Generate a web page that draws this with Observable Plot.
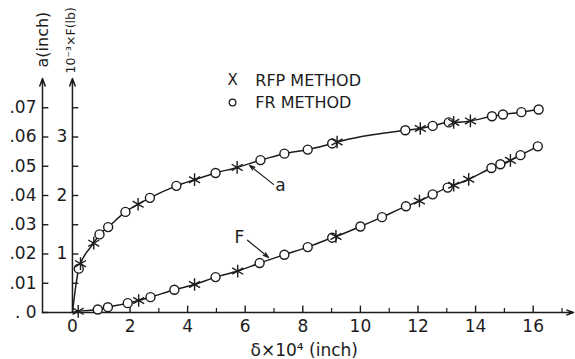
<!DOCTYPE html>
<html><head><meta charset="utf-8">
<script src="https://cdn.jsdelivr.net/npm/d3@7"></script>
<script src="https://cdn.jsdelivr.net/npm/@observablehq/plot@0.6"></script>
<style>body{margin:0;background:#fff} svg{display:block}</style>
</head><body><div id="chart"></div>
<script>
// ---- data (δ ×10^4 inch, a inch, F ×10^3 lb) ----
const aFR  = [[0.22,0.0150],[0.94,0.0267],[1.24,0.0292],[1.84,0.0344],[2.69,0.0392],[3.61,0.0433],
  [4.97,0.0477],[6.53,0.0521],[7.36,0.0543],[8.17,0.0557],[9.02,0.0578],[11.56,0.0623],[12.51,0.0638],
  [13.07,0.0650],[14.57,0.0671],[14.95,0.0677],[15.59,0.0685],[16.19,0.0694]];
const aRFP = [[0.28,0.0167],[0.74,0.0237],[2.28,0.0370],[4.24,0.0454],[5.72,0.0496],[9.19,0.0583],
  [12.08,0.0629],[13.24,0.0650],[13.82,0.0655]];
const fFR  = [[0.88,0.051],[1.23,0.091],[1.92,0.16],[2.71,0.262],[3.54,0.389],[4.97,0.605],[6.50,0.845],
  [7.36,0.988],[8.17,1.118],[9.02,1.279],[10.0,1.47],[10.75,1.63],[11.58,1.815],[12.51,2.02],[13.03,2.135],
  [14.55,2.47],[14.86,2.534],[15.56,2.69],[16.16,2.84]];
const fRFP = [[0.2,0.02],[2.30,0.205],[4.24,0.479],[5.74,0.708],[9.15,1.30],[12.05,1.906],[13.24,2.175],
  [13.76,2.277],[15.21,2.60]];
const origin = [[0,0]];

const xMajor = [0,2,4,6,8,10,12,14,16];
const xMinor = [1,3,5,7,9,11,13,15,17];
const aTicks = [0,0.01,0.02,0.03,0.04,0.05,0.06,0.07];
const aLabels = [". 0",".01",".02",".03",".04",".05",".06",".07"];
const fTicks = [0.5,1,1.5,2,2.5,3,3.5];
const fLabeled = [1,2,3];
const F_TO_A = 0.02;          // 1 ×10^3 lb on the F axis sits at a = 0.02 inch

// ---- layout / scale config ----
const xDomain = [-1.04, 17.4];
const yDomain = [0, 0.08];
const ink = "#1c1c1c";
const font = "DejaVu Sans";

const aLine = origin.concat(aFR, aRFP).sort((p,q)=>p[0]-q[0]);
const fLine = origin.concat(fFR, fRFP).sort((p,q)=>p[0]-q[0]);
const fy = p => p[1]*F_TO_A;

const legend = [
  {x:5.56, y:0.0793, sym:"X"},
  {x:5.56, y:0.0718, sym:"o"}
];
const legendText = [
  {x:6.35, y:0.0793, t:"RFP METHOD"},
  {x:6.35, y:0.0718, t:"FR METHOD"}
];
const notes = [
  {t:"a", x:7.22, y:0.0435, x1:6.98, y1:0.0438, x2:6.15, y2:0.0503},
  {t:"F", x:5.80, y:0.0255, x1:6.08, y1:0.0247, x2:6.81, y2:0.0188}
];

const chart = Plot.plot({
  width: 575, height: 359,
  marginLeft: 42, marginRight: 2, marginTop: 78, marginBottom: 47,
  x: {domain: xDomain, axis: null},
  y: {domain: yDomain, axis: null},
  style: {fontFamily: font, fontSize: "16px", background: "#fff", color: ink},
  marks: [
    // axes
    Plot.arrow([0], {x1: xDomain[0], x2: xDomain[0], y1: 0, y2: yDomain[1], stroke: ink, strokeWidth: 1.5, headLength: 8, headAngle: 40}),
    Plot.arrow([0], {x1: 0, x2: 0, y1: 0, y2: yDomain[1], stroke: ink, strokeWidth: 1.5, headLength: 8, headAngle: 40}),
    Plot.arrow([0], {x1: xDomain[0], x2: xDomain[1], y1: 0, y2: 0, stroke: ink, strokeWidth: 1.5, headLength: 7, headAngle: 40}),
    Plot.ruleY(aTicks, {y: d=>d, x1: xDomain[0], x2: xDomain[0]+0.22, stroke: ink, strokeWidth: 1.4}),
    Plot.ruleY(fTicks, {y: d=>d*F_TO_A, x1: 0, x2: 0.22, stroke: ink, strokeWidth: 1.4}),
    Plot.ruleX(xMajor.slice(1), {x: d=>d, y1: 0, y2: 0.0022, stroke: ink, strokeWidth: 1.4}),
    Plot.ruleX(xMinor, {x: d=>d, y1: 0, y2: 0.0014, stroke: ink, strokeWidth: 1.2}),
    Plot.text(aTicks, {x: xDomain[0], y: d=>d, text: (d,i)=>aLabels[i], textAnchor: "end", dx: -6, fontSize: 17, fill: ink}),
    Plot.text(fLabeled, {x: 0, y: d=>d*F_TO_A, text: d=>String(d), textAnchor: "end", dx: -5, fontSize: 17, fill: ink}),
    Plot.text(xMajor, {x: d=>d, y: 0, text: d=>String(d), dy: 14, fontSize: 17, fill: ink}),
    Plot.text(["a(inch)"], {x: xDomain[0], y: yDomain[1], text: d=>d, rotate: -90, textAnchor: "start", dy: -11, fontSize: 16, fill: ink}),
    Plot.text(["10⁻³×F(lb)"], {x: 0, y: yDomain[1], text: d=>d, rotate: -90, textAnchor: "start", dy: -5, dx: -1, fontSize: 12.5, fill: ink}),
    Plot.text(["δ×10⁴ (inch)"], {x: 8.05, y: 0, text: d=>d, dy: 38, fontSize: 17, fill: ink}),
    // curves
    Plot.line(aLine, {x: d=>d[0], y: d=>d[1], curve: "monotone-x", stroke: ink, strokeWidth: 1.5}),
    Plot.line(fLine, {x: d=>d[0], y: fy, curve: "monotone-x", stroke: ink, strokeWidth: 1.5}),
    Plot.dot(aFR, {x: d=>d[0], y: d=>d[1], r: 4.5, fill: "#fff", stroke: ink, strokeWidth: 1.4}),
    Plot.dot(fFR, {x: d=>d[0], y: fy, r: 4.5, fill: "#fff", stroke: ink, strokeWidth: 1.4}),
    Plot.dot(aRFP, {x: d=>d[0], y: d=>d[1], symbol: "asterisk", r: 6, stroke: ink, strokeWidth: 1.4}),
    Plot.dot(fRFP, {x: d=>d[0], y: fy, symbol: "asterisk", r: 6, stroke: ink, strokeWidth: 1.4}),
    // legend
    Plot.text(legend.filter(d=>d.sym==="X"), {x:"x", y:"y", text: d=>"X", fontSize: 15, fill: ink}),
    Plot.dot(legend.filter(d=>d.sym==="o"), {x:"x", y:"y", r: 3.3, stroke: ink, strokeWidth: 1.3, fill: "#fff"}),
    Plot.text(legendText, {x:"x", y:"y", text:"t", textAnchor: "start", fontSize: 16, fill: ink}),
    // annotations
    Plot.arrow(notes, {x1:"x1", y1:"y1", x2:"x2", y2:"y2", stroke: ink, strokeWidth: 1.2, headLength: 7, headAngle: 35}),
    Plot.text(notes, {x:"x", y:"y", text:"t", fontSize: 17, fill: ink})
  ]
});
document.getElementById("chart").append(chart);
</script>
</body></html>
